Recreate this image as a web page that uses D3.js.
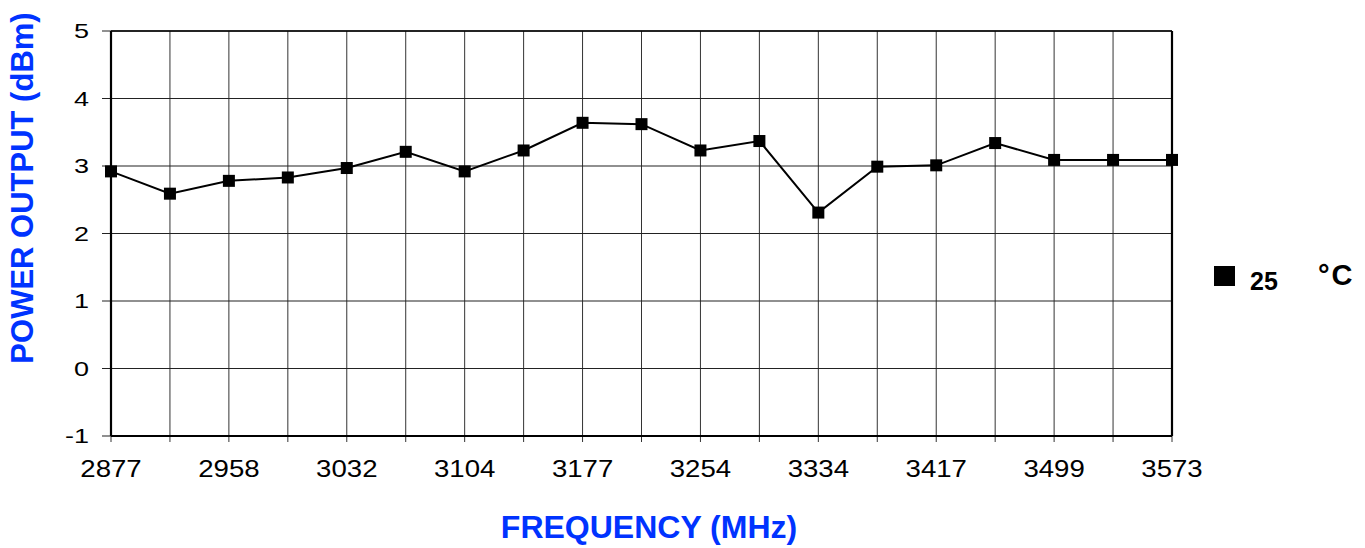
<!DOCTYPE html>
<html><head><meta charset="utf-8">
<script src="https://cdn.jsdelivr.net/npm/d3@7/dist/d3.min.js"></script>
<style>body{margin:0;background:#fff}svg{display:block}text{font-family:"Liberation Sans",Arial,sans-serif}</style>
</head><body>
<svg id="c" width="1365" height="548"></svg>
<script>
const tickLabels = ["2877","","2958","","3032","","3104","","3177","","3254","","3334","","3417","","3499","","3573"];
const categories = tickLabels.map((d,i)=>i);
const power25 = [2.92,2.59,2.78,2.83,2.97,3.21,2.92,3.23,3.64,3.62,3.23,3.37,2.31,2.99,3.01,3.34,3.09,3.09,3.09];
const yTicks = [-1,0,1,2,3,4,5];
const seriesName = "25";

const svg = d3.select("#c");
const L=111,R=1172,T=31,B=436;
const x = d3.scalePoint().domain(categories).range([L,R]).padding(0);
const y = d3.scaleLinear().domain([-1,5]).range([B,T]);

// grid
svg.append("g").selectAll("line").data(categories).join("line")
  .attr("x1",d=>x(d)).attr("x2",d=>x(d)).attr("y1",T).attr("y2",B+6)
  .attr("stroke","#333").attr("stroke-width",1);
svg.append("g").selectAll("line").data(yTicks).join("line")
  .attr("x1",L-9).attr("x2",R).attr("y1",d=>y(d)).attr("y2",d=>y(d))
  .attr("stroke","#222").attr("stroke-width",1.2);
// frame
svg.append("line").attr("x1",L).attr("x2",L).attr("y1",T).attr("y2",B).attr("stroke","#000").attr("stroke-width",2.2);
svg.append("line").attr("x1",R).attr("x2",R).attr("y1",T).attr("y2",B).attr("stroke","#000").attr("stroke-width",2.2);
svg.append("line").attr("x1",L).attr("x2",R).attr("y1",B).attr("y2",B).attr("stroke","#000").attr("stroke-width",2.2);
svg.append("line").attr("x1",L).attr("x2",R).attr("y1",T).attr("y2",T).attr("stroke","#000").attr("stroke-width",1.5);

// y labels
svg.append("g").selectAll("text").data(yTicks).join("text")
  .attr("transform",d=>`translate(89,${y(d)+7}) scale(1.35,1)`).attr("text-anchor","end")
  .attr("font-size",20).attr("fill","#000").text(d=>d);
// x labels
svg.append("g").selectAll("text").data(categories).join("text")
  .attr("transform",d=>`translate(${x(d)},477) scale(1.2,1)`).attr("text-anchor","middle")
  .attr("font-size",23).attr("fill","#000").text(d=>tickLabels[d]);

// line
svg.append("path").datum(power25)
  .attr("d",d3.line().x((d,i)=>x(categories[i])).y(d=>y(d)))
  .attr("fill","none").attr("stroke","#000").attr("stroke-width",2);
svg.append("g").selectAll("rect").data(power25).join("rect")
  .attr("x",(d,i)=>x(categories[i])-6).attr("y",d=>y(d)-6)
  .attr("width",12).attr("height",12).attr("fill","#000");

// titles
svg.append("text").attr("x",649).attr("y",538).attr("text-anchor","middle")
  .attr("font-size",32).attr("font-weight","bold").attr("fill","#0033ff").text("FREQUENCY (MHz)");
svg.append("text").attr("transform","translate(33,188) rotate(-90)").attr("text-anchor","middle")
  .attr("font-size",31).attr("font-weight","bold").attr("fill","#0033ff").text("POWER OUTPUT (dBm)");

// legend
svg.append("rect").attr("x",1214).attr("y",266).attr("width",21).attr("height",20).attr("fill","#000");
svg.append("text").attr("x",1250).attr("y",290).attr("font-size",25).attr("font-weight","bold").text(seriesName);
svg.append("text").attr("x",1318).attr("y",285).attr("font-size",29).attr("font-weight","bold").attr("letter-spacing",2).text("°C");
</script>
</body></html>
